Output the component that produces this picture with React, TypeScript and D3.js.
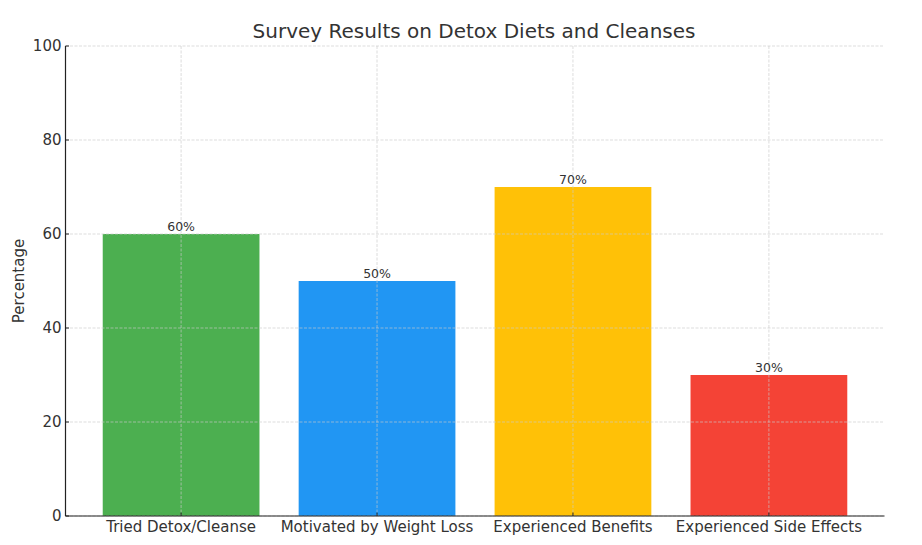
import React from "react";
import * as d3 from "d3";

const categories = ["Tried Detox/Cleanse", "Motivated by Weight Loss", "Experienced Benefits", "Experienced Side Effects"];
const values = [60, 50, 70, 30];
const colors = ["#4CAF50", "#2196F3", "#FFC107", "#F44336"];
const yTicks = [0, 20, 40, 60, 80, 100];
const title = "Survey Results on Detox Diets and Cleanses";
const yLabel = "Percentage";

const W = 922, H = 545;
const left = 65.5, right = 884.5, top = 46, bottom = 516;
const font = "DejaVu Sans, sans-serif";
const textColor = "#333333";

export default function App() {
  const x = d3.scaleLinear().domain([-0.59, 3.59]).range([left, right]);
  const y = d3.scaleLinear().domain([0, 100]).range([bottom, top]);
  const bw = x(0.4) - x(-0.4);
  return (
    <svg width={W} height={H} style={{ position: "absolute", left: 0, top: 0, background: "#fff" }}>
      <text x={474} y={38} textAnchor="middle" fontFamily={font} fontSize={20} fill={textColor}>{title}</text>
      {categories.map((c, i) => (
        <rect key={c} x={x(i) - bw / 2} y={y(values[i])} width={bw} height={y(0) - y(values[i])} fill={colors[i]} />
      ))}
      {yTicks.map((t) => (
        <line key={"gy" + t} x1={left} x2={right} y1={y(t)} y2={y(t)} stroke="#cccccc" strokeWidth={0.8} strokeDasharray="3,1.5" opacity={0.8} />
      ))}
      {categories.map((c, i) => (
        <line key={"gx" + c} x1={x(i)} x2={x(i)} y1={top} y2={bottom} stroke="#cccccc" strokeWidth={0.8} strokeDasharray="3,1.5" opacity={0.8} />
      ))}
      {categories.map((c, i) => (
        <text key={"v" + c} x={x(i)} y={y(values[i]) - 3} textAnchor="middle" fontFamily={font} fontSize={12.5} fill={textColor}>{values[i] + "%"}</text>
      ))}
      <line x1={left} x2={left} y1={top} y2={bottom} stroke="#222" strokeWidth={1.2} />
      <line x1={left} x2={right} y1={bottom} y2={bottom} stroke="#222" strokeWidth={1.2} />
      {yTicks.map((t) => (
        <g key={"ty" + t}>
          <line x1={left} x2={left + 3.5} y1={y(t)} y2={y(t)} stroke="#222" strokeWidth={1} />
          <text x={left - 4} y={y(t)} dy="0.35em" textAnchor="end" fontFamily={font} fontSize={15} fill={textColor}>{t}</text>
        </g>
      ))}
      {categories.map((c, i) => (
        <g key={"tx" + c}>
          <line x1={x(i)} x2={x(i)} y1={bottom} y2={bottom - 3.5} stroke="#222" strokeWidth={1} />
          <text x={x(i)} y={bottom + 16} textAnchor="middle" fontFamily={font} fontSize={15} fill={textColor}>{c}</text>
        </g>
      ))}
      <text transform={`translate(24,${(top + bottom) / 2}) rotate(-90)`} textAnchor="middle" fontFamily={font} fontSize={15} fill={textColor}>{yLabel}</text>
    </svg>
  );
}
